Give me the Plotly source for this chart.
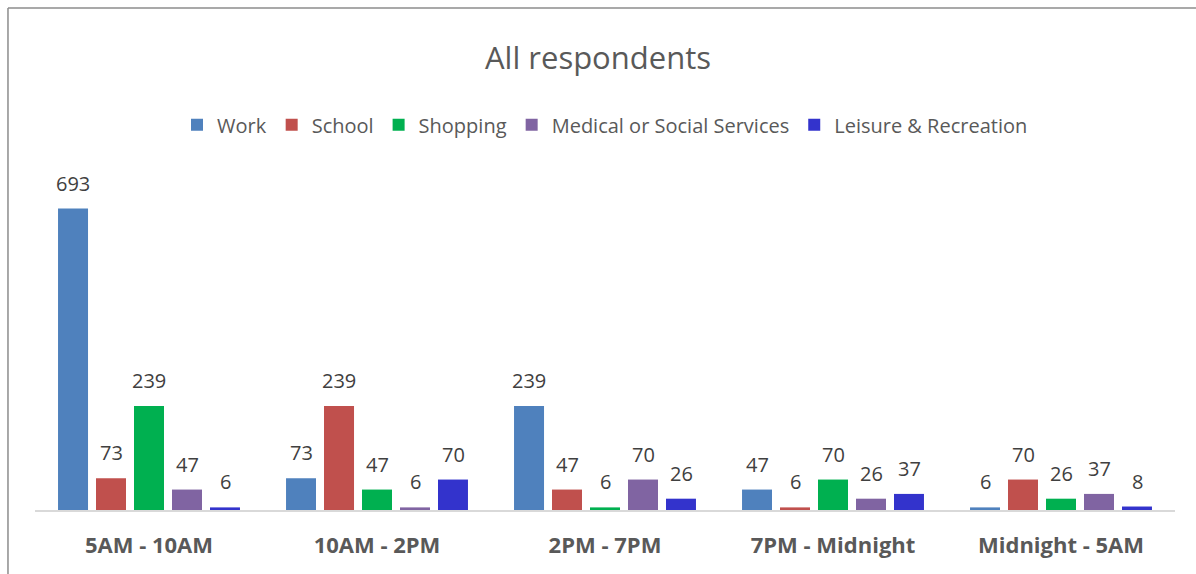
import plotly.graph_objects as go

categories = ["5AM - 10AM", "10AM - 2PM", "2PM - 7PM", "7PM - Midnight", "Midnight - 5AM"]
series_names = ["Work", "School", "Shopping", "Medical or Social Services", "Leisure & Recreation"]
work = [693, 73, 239, 47, 6]
school = [73, 239, 47, 6, 70]
shopping = [239, 47, 6, 70, 26]
medical = [47, 6, 70, 26, 37]
leisure = [6, 70, 26, 37, 8]
colors = ["#4f81bd", "#c0504d", "#00b050", "#8064a2", "#3333cc"]

all_values = [work, school, shopping, medical, leisure]

FONT = "Open Sans, Noto Sans, sans-serif"

fig = go.Figure()
for name, vals, col in zip(series_names, all_values, colors):
    fig.add_trace(go.Bar(
        x=categories, y=vals, name=name,
        marker=dict(color=col, line=dict(width=0)),
    ))

# data labels as annotations above bars
slot = 38
for i, vals in enumerate(all_values):
    for c, v in zip(categories, vals):
        fig.add_annotation(
            x=c, y=v, text=str(v), showarrow=False,
            xref="x", yref="y", yanchor="bottom",
            xshift=(i - 2) * slot, yshift=10,
            font=dict(family=FONT, size=20, color="#404040"),
        )

# frame: left and top border lines
frame_left, frame_top = -0.0237, 1.4425
fig.add_shape(type="line", xref="paper", yref="paper",
              x0=frame_left, x1=frame_left, y0=-0.5, y1=frame_top,
              line=dict(color="#8c8c8c", width=1.5), layer="below")
fig.add_shape(type="line", xref="paper", yref="paper",
              x0=frame_left, x1=1.0184, y0=frame_top, y1=frame_top,
              line=dict(color="#8c8c8c", width=1.5), layer="below")

fig.update_layout(
    width=1196, height=574,
    margin=dict(l=35, r=21, t=162, b=64),
    paper_bgcolor="white", plot_bgcolor="white",
    barmode="group", bargap=0.167, bargroupgap=0.21,
    title=dict(text="All respondents", x=0.5, xanchor="center", y=0.899, yanchor="middle",
               font=dict(family=FONT, size=31, color="#595959")),
    legend=dict(orientation="h", x=0.5, xanchor="center", y=1.107, yanchor="middle",
                font=dict(family=FONT, size=20, color="#595959"),
                itemwidth=30, tracegroupgap=0),
    showlegend=True,
    xaxis=dict(showline=True, linecolor="#d9d9d9", linewidth=1.5,
               ticks="", showgrid=False,
               tickfont=dict(family=FONT, size=22, color="#595959", weight="bold"),
               ticklabelstandoff=15),
    yaxis=dict(range=[0, 800], visible=False, showgrid=False),
)

fig.write_html("out.html", config={"displayModeBar": False},
               post_script="document.body.style.margin='0';document.body.style.overflow='hidden';document.documentElement.style.overflow='hidden';")
